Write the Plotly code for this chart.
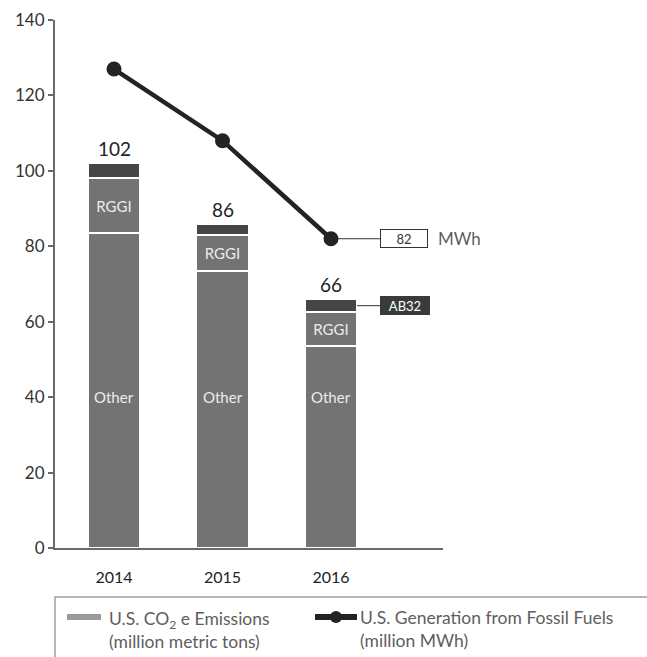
import plotly.graph_objects as go

# Emissions by program (million metric tons) and generation (million MWh)
years = ["2014", "2015", "2016"]
other = [83.5, 73.5, 53.5]
rggi = [14.5, 9.5, 9.0]
ab32 = [4.0, 3.0, 3.5]
totals = [102, 86, 66]
generation = [127, 108, 82]
y_ticks = [0, 20, 40, 60, 80, 100, 120, 140]

FONT = "Lato"
BAR_GRAY = "#737373"
BAR_DARK = "#464646"
LINE_DARK = "#232323"
TEXT_GRAY = "#5e5e5e"

# plot area in pixels
W, H = 647, 657
L, R, T, B = 55, 443, 20, 548
x_pos = [0, 1, 2]
unit = 108.5
x_lo = -(114 - L) / unit
x_hi = (R - 114) / unit


def px_x(p):
    return (p - L) / (R - L)


def px_y(p):
    return (B - p) / (B - T)


fig = go.Figure()
bar_line = dict(color="white", width=2)
fig.add_trace(go.Bar(x=x_pos, y=other, width=0.48, marker=dict(color=BAR_GRAY, line=bar_line),
                     showlegend=False, hoverinfo="skip"))
fig.add_trace(go.Bar(x=x_pos, y=rggi, width=0.48, marker=dict(color=BAR_GRAY, line=bar_line),
                     text=["RGGI"] * 3, textposition="inside", insidetextanchor="middle",
                     textangle=0, constraintext="none",
                     textfont=dict(family=FONT, size=15, color="#ececec"),
                     showlegend=False, hoverinfo="skip"))
fig.add_trace(go.Bar(x=x_pos, y=ab32, width=0.48, marker=dict(color=BAR_DARK, line=bar_line),
                     showlegend=False, hoverinfo="skip"))
fig.add_trace(go.Scatter(x=x_pos, y=generation, mode="lines+markers",
                         line=dict(color=LINE_DARK, width=4.5),
                         marker=dict(color=LINE_DARK, size=15),
                         showlegend=False, hoverinfo="skip"))

annotations = []
# "Other" labels inside the bottom segments
for xv in x_pos:
    annotations.append(dict(x=xv, y=40, text="Other", showarrow=False,
                            font=dict(family=FONT, size=15, color="#ececec")))
# totals above each bar
for xv, tv in zip(x_pos, totals):
    annotations.append(dict(x=xv, y=tv, text=str(tv), showarrow=False, yanchor="bottom",
                            yshift=1, font=dict(family=FONT, size=19, color="#222222")))

shapes = []
# callout for the last generation value
box_x0 = (380 - 114) / unit
shapes.append(dict(type="line", xref="x", yref="y", x0=x_pos[-1], x1=box_x0,
                   y0=generation[-1], y1=generation[-1], line=dict(color="#333333", width=1), layer="below"))
annotations.append(dict(x=box_x0, y=generation[-1], xanchor="left", text=str(generation[-1]),
                        showarrow=False, width=44, height=15, bgcolor="white",
                        bordercolor="#333333", borderwidth=1, borderpad=1,
                        font=dict(family=FONT, size=13, color="#333333")))
annotations.append(dict(x=(436 - 114) / unit, y=generation[-1], xanchor="left", text="MWh",
                        showarrow=False, font=dict(family=FONT, size=17, color=TEXT_GRAY)))

# callout for the AB32 segment of the last bar
ab32_mid = other[-1] + rggi[-1] + ab32[-1] / 2
shapes.append(dict(type="line", xref="x", yref="y", x0=x_pos[-1] + 0.24, x1=box_x0,
                   y0=ab32_mid, y1=ab32_mid, line=dict(color="#333333", width=1)))
annotations.append(dict(x=box_x0, y=ab32_mid, xanchor="left", text="AB32",
                        showarrow=False, width=46, height=15, bgcolor="#3a3a3a",
                        bordercolor="#3a3a3a", borderwidth=1, borderpad=1,
                        font=dict(family=FONT, size=13, color="white")))

# legend box (open to the right and bottom)
shapes.append(dict(type="rect", xref="paper", yref="paper", x0=px_x(55), x1=px_x(700),
                   y0=px_y(700), y1=px_y(597), line=dict(color="#a0a0a0", width=1.5),
                   fillcolor="rgba(0,0,0,0)"))
shapes.append(dict(type="rect", xref="paper", yref="paper", x0=px_x(67), x1=px_x(101),
                   y0=px_y(620), y1=px_y(614), line=dict(width=0), fillcolor="#9a9a9a"))
shapes.append(dict(type="line", xref="paper", yref="paper", x0=px_x(315), x1=px_x(357),
                   y0=px_y(617), y1=px_y(617), line=dict(color=LINE_DARK, width=6)))
shapes.append(dict(type="circle", xref="paper", yref="paper", x0=px_x(330), x1=px_x(342),
                   y0=px_y(623), y1=px_y(611), line=dict(width=0), fillcolor=LINE_DARK))
annotations.append(dict(xref="paper", yref="paper", x=px_x(107), y=px_y(630), xanchor="left",
                        yanchor="middle", align="left", showarrow=False,
                        text="U.S. CO<sub>2</sub> e Emissions<br>(million metric tons)",
                        font=dict(family=FONT, size=17.5, color=TEXT_GRAY)))
annotations.append(dict(xref="paper", yref="paper", x=px_x(358), y=px_y(629), xanchor="left",
                        yanchor="middle", align="left", showarrow=False,
                        text="U.S. Generation from Fossil Fuels<br>(million MWh)",
                        font=dict(family=FONT, size=17.5, color=TEXT_GRAY)))

fig.update_layout(
    width=W, height=H,
    margin=dict(l=L, r=W - R, t=T, b=H - B, autoexpand=False),
    barmode="stack", bargap=0,
    plot_bgcolor="white", paper_bgcolor="white",
    font=dict(family=FONT, color="#333333"),
    annotations=annotations, shapes=shapes,
    xaxis=dict(range=[x_lo, x_hi], tickvals=x_pos, ticktext=years, showgrid=False,
               zeroline=False, showline=True, linecolor="#6a6a6a", linewidth=2,
               ticks="", ticklabelstandoff=14, tickfont=dict(family=FONT, size=16, color="#222222")),
    yaxis=dict(range=[0, 140], tickvals=y_ticks, showgrid=False, zeroline=False,
               showline=True, linecolor="#6a6a6a", linewidth=2, ticks="outside",
               ticklen=5, tickwidth=2, tickcolor="#6a6a6a",
               tickfont=dict(family=FONT, size=17, color="#333333")),
)

fig.write_html("out.html")
